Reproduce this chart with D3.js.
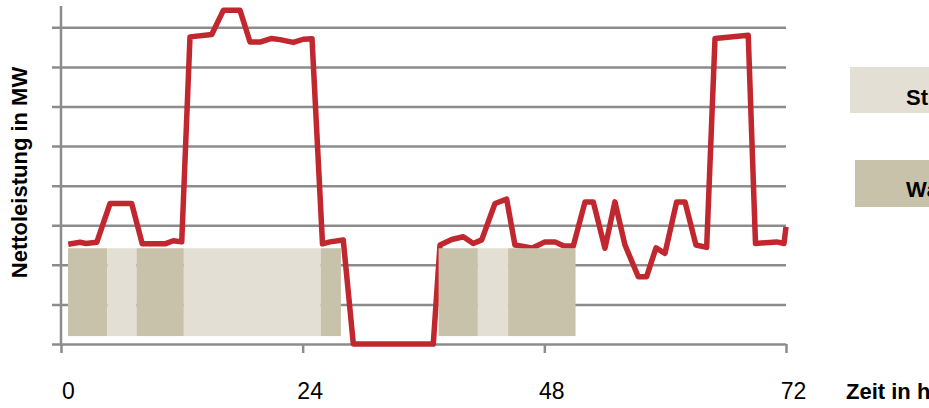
<!DOCTYPE html>
<html>
<head>
<meta charset="utf-8">
<script src="https://cdn.jsdelivr.net/npm/d3@7/dist/d3.min.js"></script>
<style>
  html, body { margin: 0; padding: 0; background: #fff; overflow: hidden; }
  svg { display: block; }
</style>
</head>
<body>
<svg id="chart" width="929" height="408"></svg>
<script>
// Netto power output over three days (hour, MW in grid units)
const hours = [0.72, 1.89, 2.48, 3.55, 4.87, 7.02, 8.07, 9.33, 10.33, 11.15, 11.99,
  12.81, 14.97, 16.12, 17.78, 18.77, 19.76, 20.92, 21.75, 23.07, 24.06, 24.93,
  25.97, 26.71, 28.03, 29.03, 36.97, 37.64, 38.80, 39.95, 40.94, 41.78, 43.10,
  44.26, 45.08, 46.08, 46.77, 48.06, 49.06, 49.88, 50.87, 52.04, 52.86, 54.02,
  55.01, 56.01, 57.33, 58.16, 59.09, 59.98, 61.14, 61.97, 63.06, 64.12, 64.95,
  68.25, 68.97, 71.07, 71.80, 72.0];
const netPower = [2.52, 2.57, 2.54, 2.57, 3.55, 3.55, 2.53, 2.53, 2.53, 2.61, 2.58,
  7.76, 7.82, 8.43, 8.43, 7.63, 7.63, 7.72, 7.69, 7.62, 7.70, 7.71,
  2.53, 2.58, 2.63, 0, 0, 2.50, 2.64, 2.71, 2.54, 2.63, 3.55,
  3.66, 2.50, 2.46, 2.42, 2.58, 2.58, 2.48, 2.47, 3.59, 3.59, 2.42,
  3.59, 2.50, 1.70, 1.70, 2.43, 2.29, 3.59, 3.59, 2.50, 2.44, 7.72,
  7.80, 2.54, 2.58, 2.54, 2.96];

// Operating mode blocks (start hour, end hour, mode)
const modeStart = [0.7, 4.6, 7.5, 12.2, 25.8, 37.5, 41.4, 44.4];
const modeEnd   = [4.6, 7.5, 12.2, 25.8, 27.8, 41.4, 44.4, 51.1];
const modeKind  = ["W", "S", "W", "S", "W", "W", "S", "W"];
const modeLow = 0.2, modeHigh = 2.42;

const legendKeys   = ["S", "W"];
const legendLabels = ["Stromgeführt", "Wärmegeführt"];

const gridValues = [0, 1, 2, 3, 4, 5, 6, 7, 8];
const xTickValues = [0, 24, 48, 72];

const modeColor = { S: "#e3dfd5", W: "#c9c2ab" };
const gridColor = "#8c8c8c";
const lineColor = "#c1272f";
const fontFamily = "Liberation Sans, Arial, sans-serif";

const svg = d3.select("#chart");

const x = d3.scaleLinear().domain([0, 72]).range([61, 786]);
const y = d3.scaleLinear().domain([0, 8.54]).range([344, 6]);

// Horizontal gridlines (with short left ticks)
const grid = svg.append("g")
  .attr("transform", "translate(52,0)")
  .call(d3.axisRight(y).tickValues(gridValues).tickSize(x(72) - 52).tickFormat(""));
grid.select(".domain").remove();
grid.selectAll(".tick line").attr("stroke", gridColor).attr("stroke-width", 2.5);

// Vertical axis line
svg.append("line")
  .attr("x1", x(0)).attr("x2", x(0))
  .attr("y1", y(8.54)).attr("y2", y(0))
  .attr("stroke", gridColor).attr("stroke-width", 2.5);

// Bottom ticks
const xAxis = svg.append("g")
  .attr("transform", `translate(0,${y(0)})`)
  .call(d3.axisBottom(x).tickValues(xTickValues).tickSize(9).tickFormat(""));
xAxis.select(".domain").remove();
xAxis.selectAll(".tick line").attr("stroke", gridColor).attr("stroke-width", 2.5);

// Tick labels
svg.append("g").selectAll("text")
  .data(xTickValues)
  .join("text")
  .attr("x", d => x(d) + 7.5)
  .attr("y", 399)
  .attr("text-anchor", "middle")
  .attr("font-family", fontFamily)
  .attr("font-size", 23)
  .attr("fill", "#000")
  .text(d => d);

// Power line
const pts = hours.map((h, i) => [h, netPower[i]]);
svg.append("path")
  .datum(pts)
  .attr("d", d3.line().x(d => x(d[0])).y(d => y(d[1])))
  .attr("fill", "none")
  .attr("stroke", lineColor)
  .attr("stroke-width", 5.5)
  .attr("stroke-linejoin", "round");

// Mode blocks drawn above the line
svg.append("g").selectAll("rect")
  .data(modeStart.map((s, i) => ({ s, e: modeEnd[i], k: modeKind[i] })))
  .join("rect")
  .attr("x", d => x(d.s))
  .attr("width", d => x(d.e) - x(d.s))
  .attr("y", y(modeHigh))
  .attr("height", y(modeLow) - y(modeHigh))
  .attr("fill", d => modeColor[d.k]);

// Axis titles
svg.append("text")
  .attr("transform", `translate(27,172.5) rotate(-90)`)
  .attr("text-anchor", "middle")
  .attr("font-family", fontFamily)
  .attr("font-weight", "bold")
  .attr("font-size", 22)
  .attr("fill", "#000")
  .text("Nettoleistung in MW");

svg.append("text")
  .attr("x", 846)
  .attr("y", 398.5)
  .attr("font-family", fontFamily)
  .attr("font-weight", "bold")
  .attr("font-size", 22)
  .attr("fill", "#000")
  .text("Zeit in h");

// Legend
const legendBoxes = [
  { x: 850, y: 67, h: 46, base: 105 },
  { x: 855, y: 160, h: 47, base: 196.5 }
];
const legend = svg.append("g").selectAll("g")
  .data(legendKeys.map((k, i) => ({ k, label: legendLabels[i], box: legendBoxes[i] })))
  .join("g");
legend.append("rect")
  .attr("x", d => d.box.x)
  .attr("y", d => d.box.y)
  .attr("width", 200)
  .attr("height", d => d.box.h)
  .attr("fill", d => modeColor[d.k]);
legend.append("text")
  .attr("x", 906)
  .attr("y", d => d.box.base)
  .attr("font-family", fontFamily)
  .attr("font-weight", "bold")
  .attr("font-size", 22)
  .attr("fill", "#000")
  .text(d => d.label);
</script>
</body>
</html>
